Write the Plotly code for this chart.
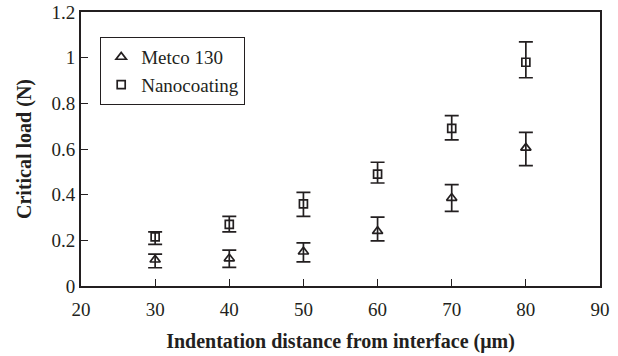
import plotly.graph_objects as go

x_vals = [30, 40, 50, 60, 70, 80]

metco_y = [0.115, 0.12, 0.15, 0.24, 0.385, 0.605]
metco_up = [0.025, 0.037, 0.039, 0.062, 0.059, 0.068]
metco_down = [0.035, 0.038, 0.044, 0.042, 0.058, 0.078]

nano_y = [0.215, 0.27, 0.36, 0.49, 0.69, 0.98]
nano_up = [0.022, 0.035, 0.05, 0.052, 0.056, 0.089]
nano_down = [0.033, 0.033, 0.055, 0.039, 0.05, 0.068]

x_ticks = [20, 30, 40, 50, 60, 70, 80, 90]
y_ticks = [0, 0.2, 0.4, 0.6, 0.8, 1, 1.2]

font = "Liberation Serif"
ink = "#231f20"

fig = go.Figure()
fig.add_trace(go.Scatter(
    x=x_vals, y=metco_y, mode="markers", name="Metco 130",
    marker=dict(symbol="triangle-up-open", size=9, color=ink, line=dict(width=1.7)),
    error_y=dict(type="data", symmetric=False, array=metco_up, arrayminus=metco_down,
                 color=ink, thickness=1.7, width=7),
))
fig.add_trace(go.Scatter(
    x=x_vals, y=nano_y, mode="markers", name="Nanocoating",
    marker=dict(symbol="square-open", size=8, color=ink, line=dict(width=1.7)),
    error_y=dict(type="data", symmetric=False, array=nano_up, arrayminus=nano_down,
                 color=ink, thickness=1.7, width=7),
))

fig.update_layout(
    width=618, height=356,
    margin=dict(l=81, r=18, t=12, b=70, autoexpand=False),
    paper_bgcolor="white", plot_bgcolor="white",
    font=dict(family=font, size=19, color=ink),
    showlegend=True,
    legend=dict(
        x=0.0366, y=0.909, xanchor="left", yanchor="top",
        bordercolor=ink, borderwidth=1.2, bgcolor="white",
        font=dict(family=font, size=19, color=ink),
        itemwidth=30, tracegroupgap=0,
    ),
    xaxis=dict(
        range=[20, 90], tickvals=x_ticks, ticks="inside", ticklen=7, tickwidth=1.2,
        tickcolor=ink, showline=True, linecolor=ink, linewidth=2,
        mirror=True, showgrid=False, zeroline=False, automargin=False,
        ticklabeloverflow="allow", ticklabelstandoff=5,
        tickfont=dict(family=font, size=19),
        title=dict(text="<b>Indentation distance from interface (\u03bcm)</b>",
                   font=dict(family=font, size=20), standoff=15),
    ),
    yaxis=dict(
        range=[0, 1.2], tickvals=y_ticks, ticks="inside", ticklen=7, tickwidth=1.2,
        tickcolor=ink, showline=True, linecolor=ink, linewidth=2,
        mirror=True, showgrid=False, zeroline=False, automargin=False,
        ticklabeloverflow="allow",
        tickfont=dict(family=font, size=19),
        title=dict(text="<b>Critical load (N)</b>",
                   font=dict(family=font, size=20), standoff=14),
    ),
)

fig.write_html("out.html", config={"displayModeBar": False},
               post_script="document.body.style.margin='0';")
